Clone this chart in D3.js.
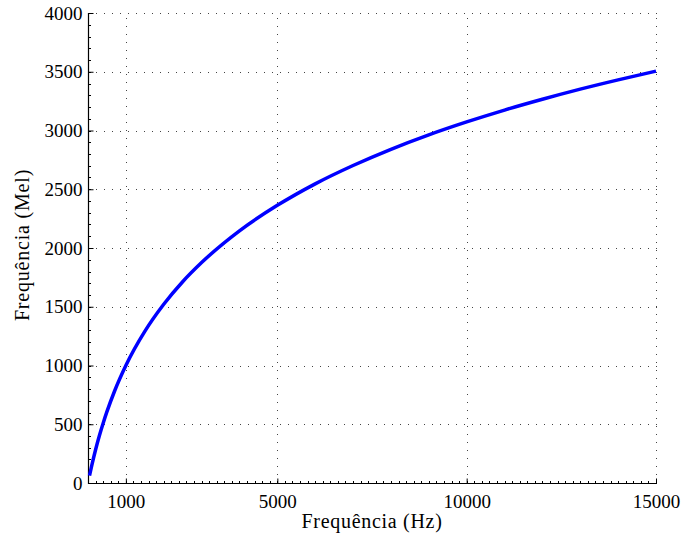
<!DOCTYPE html>
<html>
<head>
<meta charset="utf-8">
<script src="https://cdn.jsdelivr.net/npm/d3@7"></script>
<style>
  html, body { margin: 0; padding: 0; background: #fff; }
  svg { display: block; }
  text { font-family: "Liberation Serif", "DejaVu Serif", serif; fill: #000; }
</style>
</head>
<body>
<svg id="chart" width="683" height="537"></svg>
<script>
// Data (Hz -> Mel)
const freqHz = [40, 100, 200, 300, 400, 500, 700, 1000, 1500, 2000, 2500, 3000, 4000, 5000,
                6000, 7000, 8000, 9000, 10000, 11000, 12000, 13000, 14000, 15000];
const melValues = [63, 150, 283, 402, 509, 607, 781, 1000, 1290, 1521, 1713, 1876, 2146, 2363,
                   2546, 2702, 2840, 2963, 3073, 3174, 3266, 3352, 3431, 3505];
const xTicks = [1000, 5000, 10000, 15000];
const yTicks = [0, 500, 1000, 1500, 2000, 2500, 3000, 3500, 4000];
const xLabel = "Frequência (Hz)";
const yLabel = "Frequência (Mel)";

(function () {
const svg = d3.select("#chart");
const pL = 88, pR = 656, pT = 13, pB = 483;
const FONT = "'Liberation Serif', 'DejaVu Serif', serif";

const x = d3.scaleLinear().domain([0, 15000]).range([pL, pR]);
const y = d3.scaleLinear().domain([0, 4000]).range([pB, pT]);

// grid (dotted)
const grid = svg.append("g");
grid.selectAll("line.gx").data(xTicks).enter().append("line")
  .attr("x1", d => Math.round(x(d)) + 0.5).attr("x2", d => Math.round(x(d)) + 0.5)
  .attr("y1", pB).attr("y2", pT)
  .attr("stroke", "#444").attr("stroke-width", 1).attr("stroke-dasharray", "1,7");
grid.selectAll("line.gy").data(yTicks.filter(d => d > 0)).enter().append("line")
  .attr("y1", d => Math.round(y(d)) + 0.5).attr("y2", d => Math.round(y(d)) + 0.5)
  .attr("x1", pL).attr("x2", pR + 1)
  .attr("stroke", "#444").attr("stroke-width", 1).attr("stroke-dasharray", "1,7");

// minor ticks
const xMinor = d3.range(0, 15001, 200);
const yMinor = d3.range(0, 4001, 100);
svg.append("g").selectAll("line").data(xMinor).enter().append("line")
  .attr("x1", d => Math.round(x(d)) + 0.5).attr("x2", d => Math.round(x(d)) + 0.5)
  .attr("y1", pB).attr("y2", pB - 2)
  .attr("stroke", "#000").attr("stroke-width", 1);
svg.append("g").selectAll("line").data(yMinor).enter().append("line")
  .attr("y1", d => Math.round(y(d)) + 0.5).attr("y2", d => Math.round(y(d)) + 0.5)
  .attr("x1", pL).attr("x2", pL + 3)
  .attr("stroke", "#000").attr("stroke-width", 1);

// axes with inward ticks
const xAxis = d3.axisBottom(x).tickValues(xTicks).tickFormat(d3.format("d"))
  .tickSizeInner(-5).tickSizeOuter(0).tickPadding(11);
const gx = svg.append("g").attr("transform", `translate(0,${pB + 0.5})`).call(xAxis);
gx.selectAll("text").style("font-size", "19px").attr("dy", "0.71em");

const yAxis = d3.axisLeft(y).tickValues(yTicks).tickFormat(d3.format("d"))
  .tickSizeInner(-5).tickSizeOuter(0).tickPadding(6);
const gy = svg.append("g").attr("transform", `translate(${pL + 0.5},0)`).call(yAxis);
gy.selectAll("text").style("font-size", "19px");
svg.selectAll(".domain").remove();
svg.selectAll(".tick text").style("font-family", FONT);

// axis lines (left and bottom only)
svg.append("line").attr("x1", pL + 0.5).attr("x2", pL + 0.5).attr("y1", pT).attr("y2", pB + 1)
  .attr("stroke", "#000").attr("stroke-width", 1.2);
svg.append("line").attr("x1", pL).attr("x2", pR + 1).attr("y1", pB + 0.5).attr("y2", pB + 0.5)
  .attr("stroke", "#000").attr("stroke-width", 1.2);

// curve
const line = d3.line().x((d, i) => x(freqHz[i])).y(d => y(d)).curve(d3.curveMonotoneX);
svg.append("path").datum(melValues).attr("d", line)
  .attr("fill", "none").attr("stroke", "#0000ff").attr("stroke-width", 3.5);

// labels
svg.append("text").attr("x", (pL + pR) / 2).attr("y", 528)
  .attr("text-anchor", "middle").style("font-size", "20px").style("letter-spacing", "0.7px")
  .text(xLabel);
svg.append("text").attr("transform", `translate(29,${(pT + pB) / 2 - 3}) rotate(-90)`)
  .attr("text-anchor", "middle").style("font-size", "20px").style("letter-spacing", "0.8px")
  .text(yLabel);
})();
</script>
</body>
</html>
